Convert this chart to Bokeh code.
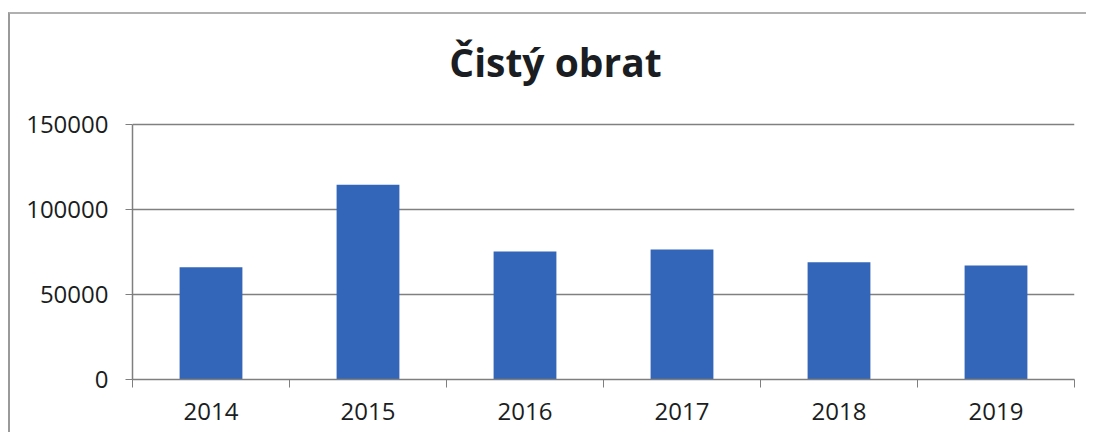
from bokeh.plotting import figure
from bokeh.models import FixedTicker, NumeralTickFormatter, Label
from bokeh.embed import file_html
from bokeh.resources import INLINE

title_text = "Čistý obrat"
years = ["2014", "2015", "2016", "2017", "2018", "2019"]
values = [66000, 114500, 75300, 76500, 69000, 67000]
y_ticks = [0, 50000, 100000, 150000]

centers = [i + 0.5 for i in range(len(years))]
bounds = list(range(len(years) + 1))

# layout (pixels): frame spans full height above the x axis; value grid occupies lower 255 px
frame_h, grid_h, frame_w = 365, 255, 942
y_max = y_ticks[-1]
y_top = y_max * frame_h / grid_h
title_x = len(years) * 423 / frame_w
title_y = y_max * (grid_h + 63) / grid_h

p = figure(width=1078, height=420, output_backend="svg", toolbar_location=None,
           x_range=(0, len(years)), y_range=(0, y_top),
           min_border_left=122, min_border_right=14, min_border_top=0, min_border_bottom=55)

p.vbar(x=centers, top=values, width=0.4, color="#3366B8", line_color=None)

title = Label(x=title_x, y=title_y, text=title_text,
              text_font="Open Sans", text_font_size="39px", text_font_style="bold",
              text_color="#1a1d21", text_align="center", text_baseline="middle")
p.add_layout(title)

p.xaxis.ticker = FixedTicker(ticks=centers, minor_ticks=bounds)
p.xaxis.major_label_overrides = {c: y for c, y in zip(centers, years)}
p.xaxis.major_tick_out = 0
p.xaxis.major_tick_in = 0
p.xaxis.minor_tick_out = 8
p.xaxis.minor_tick_in = 0
p.xaxis.minor_tick_line_color = "#7f7f7f"
p.xaxis.axis_line_color = "#7f7f7f"
p.xaxis.axis_line_width = 1.5
p.xaxis.major_label_standoff = 15

p.yaxis.ticker = FixedTicker(ticks=y_ticks)
p.yaxis.bounds = (0, y_max)
p.yaxis.formatter = NumeralTickFormatter(format="0")
p.yaxis.major_tick_out = 7
p.yaxis.major_tick_in = 0
p.yaxis.minor_tick_line_color = None
p.yaxis.major_tick_line_color = "#7f7f7f"
p.yaxis.axis_line_color = "#7f7f7f"
p.yaxis.axis_line_width = 1.5
p.yaxis.major_label_standoff = 17

for ax in (p.xaxis, p.yaxis):
    ax.major_label_text_font = "Open Sans"
    ax.major_label_text_font_size = "24px"
    ax.major_label_text_color = "#1a1d21"

p.xgrid.grid_line_color = None
p.ygrid.ticker = FixedTicker(ticks=y_ticks)
p.ygrid.grid_line_color = "#808080"
p.ygrid.grid_line_width = 1.5
p.outline_line_color = None
p.styles = {"border-left": "2px solid #9a9a9a", "border-top": "2px solid #b0b0b0",
            "margin-left": "8px", "margin-top": "12px"}

open("out.html", "w").write(file_html(p, INLINE))
